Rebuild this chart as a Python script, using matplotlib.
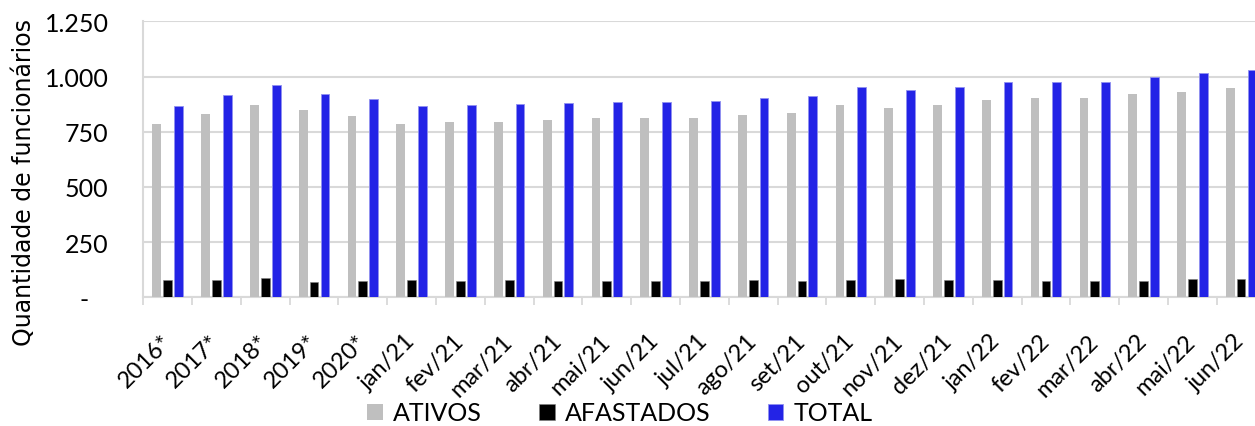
import matplotlib
matplotlib.use("Agg")
import matplotlib.pyplot as plt
import numpy as np

categories = ["2016*", "2017*", "2018*", "2019*", "2020*",
              "jan/21", "fev/21", "mar/21", "abr/21", "mai/21", "jun/21",
              "jul/21", "ago/21", "set/21", "out/21", "nov/21", "dez/21",
              "jan/22", "fev/22", "mar/22", "abr/22", "mai/22", "jun/22"]
ativos = [787, 831, 873, 848, 820, 787, 796, 795, 802, 810, 810, 813, 824, 834,
          870, 858, 870, 893, 902, 902, 921, 932, 946]
afastados = [77, 80, 86, 69, 72, 77, 74, 77, 73, 74, 74, 74, 77, 74,
             78, 81, 78, 78, 74, 74, 74, 81, 81]
total = [865, 914, 961, 920, 896, 866, 871, 875, 878, 884, 884, 888, 902, 912,
         952, 939, 952, 974, 977, 977, 997, 1016, 1028]
yticks = [0, 250, 500, 750, 1000, 1250]
ytick_labels = ["-   ", "250", "500", "750", "1.000", "1.250"]
series_names = ["ATIVOS", "AFASTADOS", "TOTAL"]

W, H = 1255, 427
fig = plt.figure(figsize=(W / 100, H / 100), dpi=100)
left_px, right_px, top_px, bot_px = 143.3, 1265.5, 22.3, 298.3
ax = fig.add_axes([left_px / W, 1 - bot_px / H,
                   (right_px - left_px) / W, (bot_px - top_px) / H])

x = np.arange(len(categories))
bw = 0.18
off = 0.222
grid_c = "#D9D9D9"
b1 = ax.bar(x - off, ativos, bw, color="#BFBFBF", label=series_names[0], zorder=3)
b2 = ax.bar(x, afastados, bw, color="#000000", edgecolor="#7F7F7F", linewidth=0.4,
            label=series_names[1], zorder=3)
b3 = ax.bar(x + off, total, bw, color="#2323E6", edgecolor="#9090F0", linewidth=0.6,
            label=series_names[2], zorder=3)

ax.set_xlim(-0.5, len(categories) - 0.5)
ax.set_ylim(0, 1250)
ax.set_yticks(yticks)
ax.set_yticklabels(ytick_labels, fontfamily="Lato", fontsize=18)
ax.tick_params(axis="y", length=0, pad=25)
ax.yaxis.grid(True, color=grid_c, linewidth=1.5, zorder=0)
ax.set_axisbelow(True)

ax.set_xticks(x)
ax.set_xticklabels(categories, rotation=45, ha="right", va="center",
                   rotation_mode="anchor", fontfamily="Lato", fontsize=17)
ax.tick_params(axis="x", which="major", length=0, pad=29)
ax.set_xticks(np.arange(-0.5, len(categories), 1), minor=True)
ax.tick_params(axis="x", which="minor", length=6, width=1.3, color=grid_c)

for s in ["top", "right"]:
    ax.spines[s].set_visible(False)
for s in ["left", "bottom"]:
    ax.spines[s].set_color(grid_c)
    ax.spines[s].set_linewidth(1.5)

fig.text(24 / W, 1 - 182 / H, "Quantidade de funcionários", rotation=90,
         ha="center", va="center", fontfamily="DejaVu Sans", fontsize=17)

fig.legend(handles=[b1, b2, b3], labels=series_names, loc="center",
           bbox_to_anchor=(620 / W, 1 - 414 / H), ncol=3, frameon=False,
           prop={"family": "Lato", "size": 18}, handlelength=0.62, handleheight=0.62,
           handletextpad=0.4, columnspacing=2.3, borderaxespad=0, borderpad=0)

fig.savefig("out.png", dpi=100)
